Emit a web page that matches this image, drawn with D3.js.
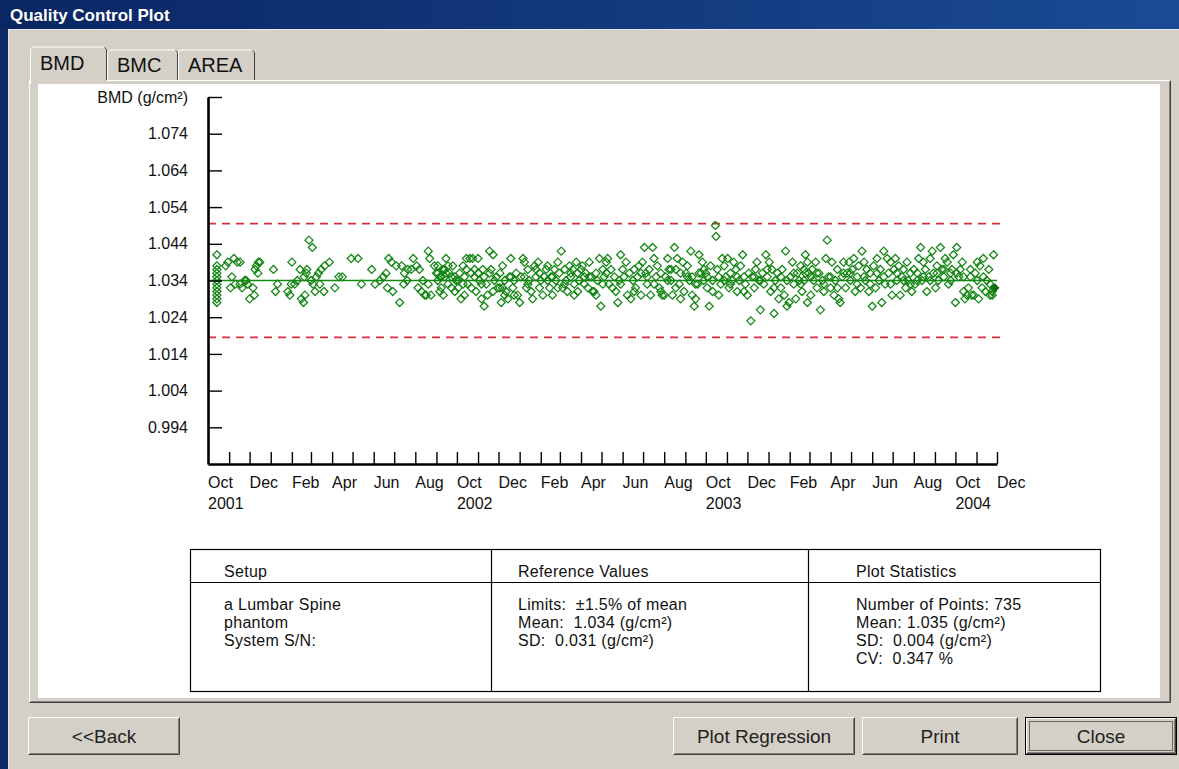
<!DOCTYPE html>
<html><head><meta charset="utf-8">
<script src="https://cdn.jsdelivr.net/npm/d3@7"></script>
<style>
html,body{margin:0;padding:0;background:#d4d0c8;overflow:hidden}
svg{display:block;font-family:"Liberation Sans",Arial,Helvetica,sans-serif}
</style></head><body>
<svg id="c" width="1179" height="769"></svg>
<script>
// ---------------- DATA ----------------
const startDate = "2001-10-01";
const endDate = "2004-12-01";
const tabNames = ["BMD", "BMC", "AREA"];
const yTickValues = [0.994, 1.004, 1.014, 1.024, 1.034, 1.044, 1.054, 1.064, 1.074, 1.084];
const yUnitLabel = "BMD (g/cm²)";
const monthTickLabels = ["Oct","Dec","Feb","Apr","Jun","Aug","Oct","Dec","Feb","Apr","Jun","Aug","Oct","Dec","Feb","Apr","Jun","Aug","Oct","Dec"];
const yearTickLabels = ["2001", "2002", "2003", "2004"];
const referenceMean = 1.034;
const limitPercent = 1.5;

// scans: [days since startDate, BMD g/cm²]
const scans2001 = [[13,1.041],[13,1.038],[13,1.037],[13,1.036],[13,1.035],[13,1.034],[13,1.033],[13,1.032],[13,1.031],[13,1.030],[13,1.029],[13,1.028],
[26,1.038],[29,1.039],[33,1.032],[35,1.035],[38,1.040],[40,1.033],[43,1.039],[47,1.039],[47,1.033],[50,1.032],[54,1.034],[56,1.034],[58,1.033],[61,1.029],[66,1.032],[68,1.030],[69,1.037],[71,1.038],[73,1.036],[74,1.039],[76,1.039]];

const scans2002 = [[96,1.037],[99,1.031],[102,1.033],[117,1.031],[120,1.030],[122,1.033],[123,1.039],[127,1.033],[131,1.034],[135,1.037],[137,1.029],[140,1.028],[141,1.035],[142,1.030],[144,1.036],[145,1.037],[148,1.045],[151,1.034],[153,1.043],[154,1.033],[157,1.031],[159,1.035],[162,1.036],[164,1.033],[166,1.037],[170,1.031],[171,1.038],[178,1.039],[186,1.032],[192,1.035],[197,1.035],[210,1.040],[220,1.040],[225,1.033],[240,1.037],[245,1.033],[252,1.034],[257,1.035],[261,1.036],[263,1.032],[265,1.040],[269,1.039],[271,1.031],[276,1.038],[281,1.028],[284,1.038],[287,1.033],[288,1.036],[292,1.034],
[293,1.037],[298,1.037],[301,1.040],[306,1.038],[308,1.032],[310,1.037],[313,1.031],[315,1.034],[318,1.030],[320,1.030],[323,1.042],[325,1.040],[323,1.033],[327,1.030],[332,1.038],[335,1.036],[337,1.038],[340,1.035],[337,1.034],[342,1.032],[345,1.037],[347,1.035],[349,1.040],[352,1.033],[352,1.038],[354,1.036],[357,1.035],[359,1.038],[362,1.031],[364,1.034],[367,1.032],[369,1.036],[371,1.029],[374,1.038],[376,1.035],[376,1.030],[379,1.040],[381,1.033],[384,1.040],[386,1.036],[388,1.040],[391,1.037],[393,1.031],[396,1.040],[398,1.034],[401,1.029],[403,1.037],[405,1.027],[408,1.033],[410,1.030],[413,1.042],[415,1.037],[418,1.041],[420,1.034],[423,1.035],[425,1.032],[428,1.036],[430,1.028],[432,1.038],[435,1.034],[437,1.031],[440,1.029],[442,1.035],[444,1.040],[447,1.032],[449,1.034],[452,1.036],[454,1.030],
[337,1.036],[342,1.035],[347,1.037],[349,1.036],[340,1.031],[345,1.030],[357,1.032],[362,1.035],[367,1.034],[374,1.033],[379,1.037],[386,1.032],[391,1.035],[396,1.036],[401,1.033],[405,1.035],[413,1.036],[418,1.031],[428,1.032],[432,1.032],[435,1.030],[444,1.035],[449,1.030]];

const scans2003 = [[457,1.028],[459,1.035],[462,1.040],[464,1.039],[467,1.032],[469,1.037],[471,1.034],[474,1.031],[476,1.029],[479,1.038],[481,1.035],[484,1.039],[486,1.032],[488,1.034],[491,1.030],[493,1.035],[496,1.037],[498,1.038],[501,1.032],[503,1.035],[505,1.030],[508,1.037],[510,1.034],[513,1.039],[515,1.036],[518,1.042],[520,1.032],[523,1.037],[525,1.034],[527,1.031],[530,1.038],[532,1.035],[535,1.037],[537,1.033],[540,1.039],[542,1.036],[544,1.034],[547,1.037],[549,1.038],[552,1.035],[554,1.036],[557,1.032],[559,1.039],[562,1.035],[564,1.031],[566,1.031],[569,1.030],[571,1.034],[574,1.040],[576,1.027],[579,1.037],[581,1.035],[584,1.039],
[464,1.035],[469,1.033],[481,1.037],[486,1.036],[498,1.034],[505,1.035],[513,1.032],[523,1.033],[532,1.036],[537,1.030],[542,1.031],[552,1.033],[559,1.035],[569,1.036],[579,1.033],
[584,1.036],[586,1.040],[588,1.033],[591,1.037],[593,1.032],[598,1.031],[601,1.028],[603,1.034],[605,1.041],[608,1.037],[610,1.035],[613,1.039],[615,1.030],[618,1.036],[620,1.029],[623,1.034],[625,1.037],[627,1.032],[630,1.035],[632,1.038],[635,1.030],[637,1.039],[640,1.043],[642,1.036],[644,1.033],[647,1.037],[649,1.030],[652,1.043],[654,1.040],[657,1.035],[659,1.038],[662,1.032],[664,1.036],[666,1.030],[669,1.030],[671,1.035],[674,1.040],[676,1.037],[679,1.034],[681,1.030],[684,1.043],[686,1.037],[688,1.040],[691,1.033],[693,1.036],[696,1.039],[698,1.031],[701,1.036],[703,1.038],[706,1.034],[708,1.042],[710,1.030],[713,1.027],[715,1.029],[718,1.033],[720,1.041],[723,1.036],[725,1.039],[727,1.034],[730,1.036],[732,1.032],[735,1.027],[737,1.038],[740,1.034],[744,1.049],[745,1.046],[747,1.037],[749,1.030],[752,1.033],[754,1.040],[757,1.038],[759,1.035],[762,1.040],[764,1.032],[766,1.036],[769,1.034],[771,1.039],[774,1.037],[776,1.035],[779,1.034],[781,1.038],[784,1.041],[786,1.031],[788,1.033],[791,1.030],[793,1.036],[796,1.023],[798,1.035],[801,1.032],[803,1.037],[805,1.039],[808,1.034],[810,1.026],[813,1.036],[815,1.033],[818,1.041],[820,1.035],
[596,1.035],[605,1.033],[625,1.031],[635,1.036],[644,1.035],[654,1.033],[664,1.031],[674,1.034],[679,1.037],[686,1.032],[693,1.029],[703,1.035],[710,1.035],[715,1.033],[720,1.036],[727,1.037],[732,1.035],[740,1.031],[749,1.035],[757,1.034],[766,1.033],[776,1.031],[786,1.035],[801,1.035],[810,1.034],[820,1.037]];

const scans2004 = [[823,1.039],[825,1.031],[827,1.037],[830,1.025],[832,1.034],[835,1.036],[837,1.029],[840,1.032],[842,1.037],[845,1.030],[847,1.042],[849,1.027],[852,1.028],[854,1.035],[857,1.039],[859,1.033],[862,1.029],[864,1.036],[867,1.034],[869,1.038],[871,1.031],[874,1.037],[876,1.036],
[830,1.032],[840,1.035],[849,1.034],[859,1.036],[869,1.033],[874,1.034],
[876,1.041],[879,1.039],[879,1.028],[881,1.036],[884,1.030],[886,1.037],[888,1.034],[891,1.039],[893,1.032],[896,1.036],[898,1.026],[901,1.034],[903,1.031],[906,1.040],[908,1.045],[910,1.035],[913,1.032],[915,1.039],[918,1.030],[920,1.034],[923,1.037],[925,1.029],[927,1.028],[930,1.035],[932,1.039],[935,1.032],[937,1.036],[940,1.039],[942,1.034],[945,1.037],[947,1.040],[949,1.031],[952,1.035],[954,1.038],[957,1.032],[959,1.042],[962,1.039],[964,1.034],[966,1.037],[969,1.031],[971,1.036],[974,1.027],[976,1.038],[979,1.032],[981,1.040],[984,1.034],[986,1.037],[988,1.028],[991,1.042],[993,1.033],[996,1.040],[998,1.036],[1001,1.039],[1003,1.030],[1006,1.037],[1008,1.040],[1010,1.034],[1013,1.038],[1015,1.030],[1018,1.035],[1020,1.037],[1023,1.032],[1025,1.039],[1027,1.034],[1030,1.036],[1032,1.031],[1035,1.037],[1037,1.033],[1040,1.036],[1042,1.040],[1045,1.043],[1047,1.034],[1049,1.039],[1052,1.037],[1054,1.031],[1057,1.035],[1059,1.040],[1062,1.042],[1064,1.036],[1067,1.032],[1069,1.038],[1071,1.034],[1074,1.043],[1076,1.037],[1079,1.035],[1081,1.040],[1084,1.039],[1086,1.033],[1089,1.036],[1091,1.037],[1093,1.041],[1096,1.028],[1098,1.043],[1101,1.035],[1103,1.037],[1106,1.039],[1108,1.031],[1110,1.029],[1113,1.030],[1115,1.032],[1118,1.035],[1120,1.030],[1123,1.030],[1125,1.036],[1128,1.039],[1130,1.029],[1132,1.038],[1135,1.032],[1137,1.040],[1140,1.031],[1142,1.034],[1145,1.037],[1147,1.030],[1150,1.031],[1152,1.041],
[884,1.035],[893,1.036],[903,1.033],[913,1.035],[923,1.032],[932,1.036],[942,1.036],[952,1.033],[962,1.035],[971,1.033],[981,1.036],[991,1.035],[1001,1.033],[1010,1.036],[1020,1.034],[1030,1.033],[1040,1.034],[1049,1.035],[1059,1.034],[1069,1.036],[1079,1.037],[1089,1.034],[1098,1.036],[1108,1.035],[1118,1.037],[1128,1.034],[1137,1.035],[1147,1.033],[1150,1.030],[1152,1.032]];

const latestScan = [1154, 1.032];

const tableHeaders = ["Setup", "Reference Values", "Plot Statistics"];
const setupLines = ["a Lumbar Spine", "phantom", "System S/N:"];
const referenceLines = ["Limits:  ±1.5% of mean", "Mean:  1.034 (g/cm²)", "SD:  0.031 (g/cm²)"];
const statisticsLines = ["Number of Points: 735", "Mean: 1.035 (g/cm²)", "SD:  0.004 (g/cm²)", "CV:  0.347 %"];
const buttonLabels = ["<<Back", "Plot Regression", "Print", "Close"];
const windowTitle = "Quality Control Plot";

// ---------------- DRAW ----------------
const svg = d3.select("#c");
const parse = d3.timeParse("%Y-%m-%d");
const t0 = parse(startDate), t1 = parse(endDate);
const FACE = "#d4d0c8", DARK = "#404040", SHADOW = "#808080";

// desktop strip + window
svg.append("rect").attr("width",1179).attr("height",769).attr("fill","#0c2c63");
svg.append("rect").attr("x",8).attr("y",29).attr("width",1171).attr("height",740).attr("fill",FACE);
svg.append("line").attr("x1",8.5).attr("x2",8.5).attr("y1",29).attr("y2",769).attr("stroke","#e8e6e0");
svg.append("line").attr("x1",8).attr("x2",1179).attr("y1",29.5).attr("y2",29.5).attr("stroke","#e8e6e0");

// title bar
const grad = svg.append("defs").append("linearGradient").attr("id","tb");
grad.append("stop").attr("offset","0%").attr("stop-color","#0a2664");
grad.append("stop").attr("offset","100%").attr("stop-color","#1a4b94");
svg.append("rect").attr("width",1179).attr("height",29).attr("fill","url(#tb)");
svg.append("text").attr("x",10).attr("y",21).attr("fill","#fff").attr("font-weight","bold")
  .attr("font-size",17).text(windowTitle);

// bevel helper
function bevel(g, x, y, w, h, raised) {
  const tl = raised ? "#ffffff" : SHADOW, br = raised ? DARK : "#ffffff";
  g.append("path").attr("d",`M${x+0.5},${y+h-0.5}V${y+0.5}H${x+w-0.5}`).attr("fill","none").attr("stroke",tl);
  g.append("path").attr("d",`M${x+0.5},${y+h-0.5}H${x+w-0.5}V${y+0.5}`).attr("fill","none").attr("stroke",br);
  if (raised) g.append("path").attr("d",`M${x+1.5},${y+h-1.5}H${x+w-1.5}V${y+1.5}`).attr("fill","none").attr("stroke",SHADOW);
}

// tab panel
const ui = svg.append("g");
ui.append("rect").attr("x",29).attr("y",80).attr("width",1142).attr("height",623).attr("fill",FACE);
bevel(ui, 29, 80, 1142, 623, true);
ui.append("rect").attr("x",38).attr("y",84).attr("width",1122).attr("height",614).attr("fill","#fff");

// tabs
const tabX = [30, 107, 178, 255];
tabNames.forEach((name, i) => {
  const x = tabX[i], w = tabX[i+1] - tabX[i], sel = i === 0;
  const top = sel ? 47 : 50, bottom = sel ? 84 : 80;
  ui.append("rect").attr("x",x).attr("y",top).attr("width",w).attr("height",bottom-top).attr("fill",FACE);
  ui.append("path").attr("d",`M${x+0.5},${bottom}V${top+2}l2,-2H${x+w-2.5}`).attr("fill","none").attr("stroke","#fff");
  ui.append("path").attr("d",`M${x+w-2.5},${top+0.5}l2,2V${bottom-(sel?4:0)}`).attr("fill","none").attr("stroke",DARK);
  ui.append("text").attr("x",x+10).attr("y",sel?70:72).attr("font-size",20).attr("fill","#111").text(name);
});

// ---- plot ----
const x = d3.scaleTime().domain([t0, t1]).range([208, 997]);
const y = d3.scaleLinear().domain([0.984, 1.084]).range([464, 97]);
const plot = svg.append("g");

// reference limits
const upper = referenceMean * (1 + limitPercent / 100);
const lower = referenceMean * (1 - limitPercent / 100);
[upper, lower].forEach(v => {
  plot.append("line").attr("x1",x.range()[0]).attr("x2",x.range()[1]+6)
    .attr("y1",y(v)).attr("y2",y(v)).attr("stroke","#d8303f").attr("stroke-width",1.6)
    .attr("stroke-dasharray","8,6");
});
// mean line
plot.append("line").attr("x1",x.range()[0]).attr("x2",x.range()[1])
  .attr("y1",y(referenceMean)).attr("y2",y(referenceMean)).attr("stroke","#108a10").attr("stroke-width",1.5);

// points
const allScans = [].concat(scans2001, scans2002, scans2003, scans2004);
const diamond = "M0,-4L4,0L0,4L-4,0Z";
plot.append("g").selectAll("path").data(allScans).join("path")
  .attr("d", diamond)
  .attr("transform", d => `translate(${x(d3.timeDay.offset(t0, d[0]))},${y(d[1])})`)
  .attr("fill","none").attr("stroke","#138513").attr("stroke-width",1.25);
plot.append("path").attr("d", diamond)
  .attr("transform", `translate(${x(d3.timeDay.offset(t0, latestScan[0]))},${y(latestScan[1])})`)
  .attr("fill","#0d6e0d").attr("stroke","#0d6e0d").attr("stroke-width",1);

// y axis
const yAxis = d3.axisLeft(y).tickValues(yTickValues).tickSizeInner(-14).tickSizeOuter(0).tickPadding(20)
  .tickFormat((d, i) => i === yTickValues.length - 1 ? yUnitLabel : d3.format(".3f")(d));
const yg = plot.append("g").attr("transform","translate(208,0)").call(yAxis);
yg.select(".domain").attr("stroke","#000").attr("stroke-width",2.6);
yg.selectAll(".tick line").attr("stroke","#000").attr("stroke-width",1.4);
yg.selectAll(".tick text").attr("font-size",16).attr("fill","#111")
  .attr("font-family",'"Liberation Sans",Arial,sans-serif');

// x axis
const monthTicks = d3.timeMonth.range(d3.timeMonth.offset(t0, 1), d3.timeMonth.offset(t1, 1));
const xAxis = d3.axisBottom(x).tickValues(monthTicks).tickSizeInner(-12).tickSizeOuter(0).tickFormat("");
const xg = plot.append("g").attr("transform","translate(0,464)").call(xAxis);
xg.select(".domain").attr("stroke","#000").attr("stroke-width",2.4);
xg.selectAll(".tick line").attr("stroke","#000").attr("stroke-width",1.4);

const labelMonths = d3.timeMonth.range(t0, d3.timeMonth.offset(t1, 1), 2);
plot.append("g").selectAll("text").data(monthTickLabels).join("text")
  .attr("x", (d, i) => x(labelMonths[i]))
  .attr("y", 488).attr("font-size",16).attr("fill","#111").text(d => d);
const yearDates = yearTickLabels.map(yr => parse(yr + "-10-01"));
plot.append("g").selectAll("text").data(yearTickLabels).join("text")
  .attr("x", (d, i) => x(yearDates[i]))
  .attr("y", 509).attr("font-size",16).attr("fill","#111").text(d => d);

// ---- table ----
const tbl = svg.append("g").attr("font-size",16).attr("fill","#111").style("letter-spacing","0.3px");
const tL = 190, tR = 1100, tT = 549, tB = 691, hB = 582, colX = [190, 491, 808];
tbl.append("rect").attr("x",tL+0.5).attr("y",tT+0.5).attr("width",tR-tL).attr("height",tB-tT)
  .attr("fill","#fff").attr("stroke","#000").attr("stroke-width",1.2);
tbl.append("line").attr("x1",tL).attr("x2",tR).attr("y1",hB+0.5).attr("y2",hB+0.5).attr("stroke","#000").attr("stroke-width",1.2);
[colX[1], colX[2]].forEach(cx => tbl.append("line").attr("x1",cx+0.5).attr("x2",cx+0.5).attr("y1",tT).attr("y2",tB)
  .attr("stroke","#000").attr("stroke-width",1.2));
const textX = [224, 518, 856];
tableHeaders.forEach((h, i) => tbl.append("text").attr("x",textX[i]).attr("y",577).text(h));
[setupLines, referenceLines, statisticsLines].forEach((lines, i) => {
  lines.forEach((s, j) => tbl.append("text").attr("x",textX[i]).attr("y",610 + j*18)
    .attr("xml:space","preserve").style("white-space","pre").text(s));
});

// ---- buttons ----
const btnX = [28, 673, 862, 1025], btnW = [152, 182, 156, 152];
buttonLabels.forEach((lab, i) => {
  const g = svg.append("g");
  const bx = btnX[i], by = 717, bw = btnW[i], bh = 38;
  g.append("rect").attr("x",bx).attr("y",by).attr("width",bw).attr("height",bh).attr("fill",FACE);
  if (lab === "Close") {
    g.append("rect").attr("x",bx+0.5).attr("y",by+0.5).attr("width",bw-1).attr("height",bh-1).attr("fill","none").attr("stroke","#000");
    bevel(g, bx+1, by+1, bw-2, bh-2, true);
    g.append("rect").attr("x",bx+4.5).attr("y",by+4.5).attr("width",bw-9).attr("height",bh-9)
      .attr("fill","none").attr("stroke","#000").attr("stroke-dasharray","1,1");
  } else {
    bevel(g, bx, by, bw, bh, true);
  }
  g.append("text").attr("x",bx+bw/2).attr("y",by+26).attr("text-anchor","middle")
    .attr("font-size",19).attr("fill","#222").text(lab);
});
</script>
</body></html>
